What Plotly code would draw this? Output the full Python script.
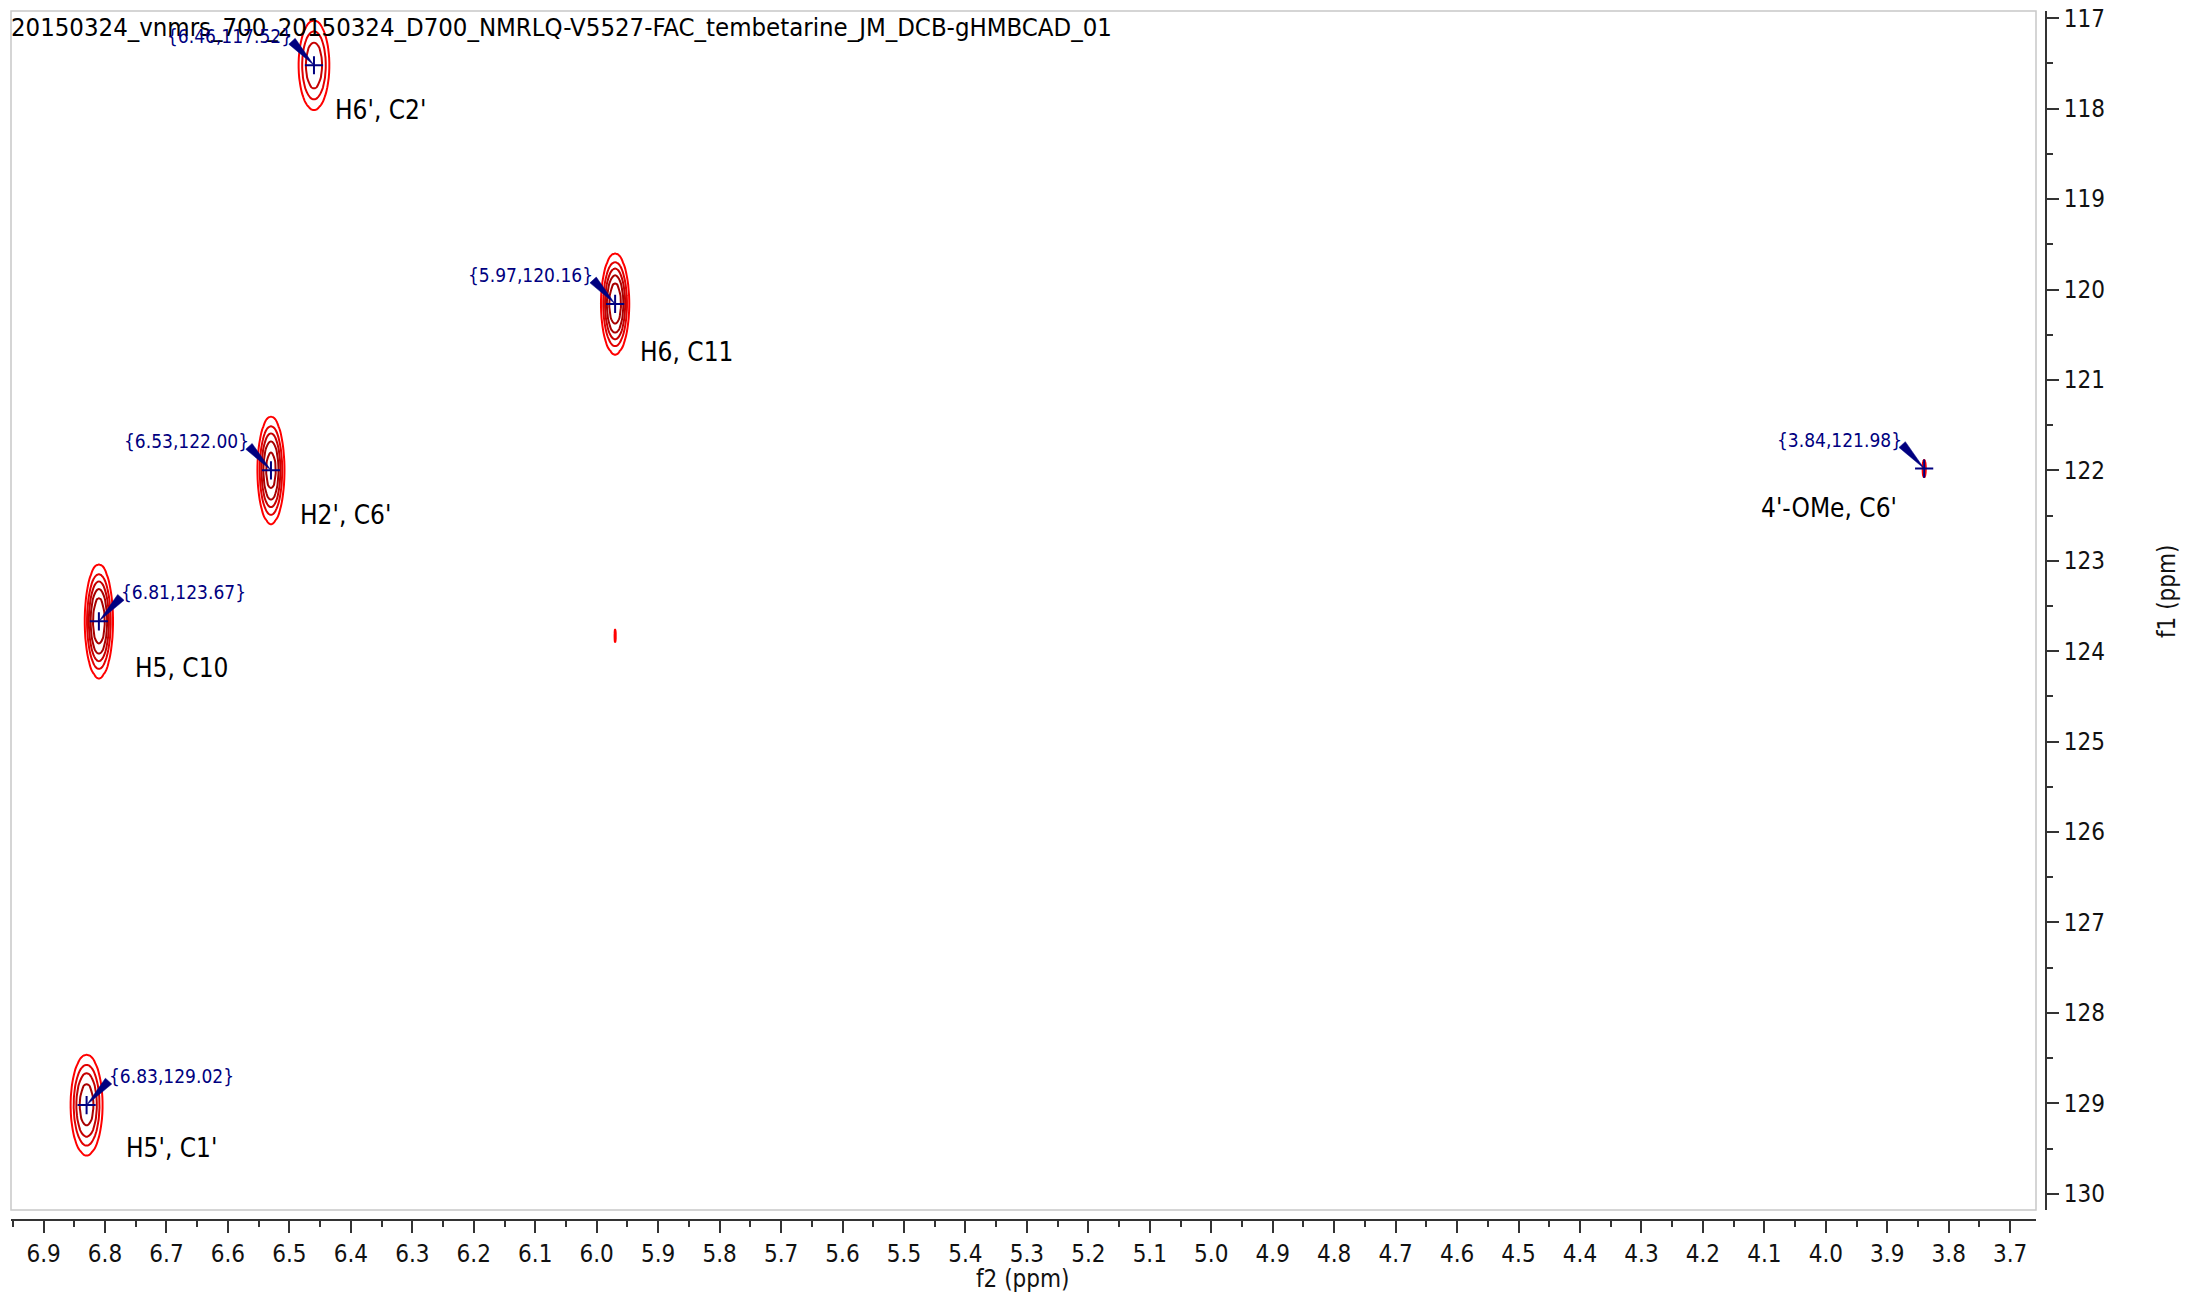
import numpy as np
import plotly.graph_objects as go

# ---------------- data ----------------
title_text = "20150324_vnmrs_700_20150324_D700_NMRLQ-V5527-FAC_tembetarine_JM_DCB-gHMBCAD_01"

peak_f2 = [6.46, 5.97, 6.53, 6.81, 6.83, 3.84]            # ppm (H)
peak_f1 = [117.52, 120.16, 122.00, 123.67, 129.02, 121.98]  # ppm (C)
peak_amp = [0.60, 0.95, 0.90, 0.95, 0.75, 0.24]           # relative intensity
peak_hw_f2 = [0.025, 0.023, 0.022, 0.023, 0.026, 0.0028]  # outer-contour half width (ppm)
peak_hw_f1 = [0.49, 0.55, 0.585, 0.62, 0.55, 0.095]       # outer-contour half height (ppm)
peak_tags = ["{6.46,117.52}", "{5.97,120.16}", "{6.53,122.00}",
             "{6.81,123.67}", "{6.83,129.02}", "{3.84,121.98}"]
peak_assign = ["H6', C2'", "H6, C11", "H2', C6'", "H5, C10", "H5', C1'", "4'-OMe, C6'"]

artifact_f2 = [5.97]
artifact_f1 = [123.83]
artifact_amp = [0.20]
artifact_hw_f2 = [0.0016]
artifact_hw_f1 = [0.068]

x_tick_vals = [round(3.7 + 0.1 * i, 1) for i in range(33)]
y_tick_vals = list(range(117, 131))

contour_start, contour_end, contour_step = 0.15, 0.83, 0.17

# ---------------- layout geometry (screen px, page has 8px body margin) ----------------
OFF = 8
W, H = 2197 - 2 * OFF, 1303 - 2 * OFF
FX0, FX1 = 11, 2036       # frame left/right (screen)
FY0, FY1 = 11, 1210       # frame top/bottom (screen)
X_AXIS_Y = 1220           # x axis line (screen)
Y_AXIS_X = 2046           # y axis line (screen)
X_RANGE = [6.953, 3.658]
Y_RANGE = [130.18, 116.92]
XPX = (FX1 - FX0) / (X_RANGE[0] - X_RANGE[1])
YPX = (FY1 - FY0) / (Y_RANGE[0] - Y_RANGE[1])


def px(sx):
    return (sx - OFF) / W


def py(sy):
    return 1 - (sy - OFF) / H


# tag: side of the tag relative to the peak ('l' = tag left of peak)
tag_side = ['l', 'l', 'l', 'r', 'r', 'l']
tag_dx, tag_dy = 20, 29
wedge_dx, wedge_dy, wedge_hw = 22, 24, 4.3
assign_offsets = [(19, 45, 'left'), (23, 48, 'left'), (27, 45, 'left'),
                  (34, 47, 'left'), (37, 43, 'left'), (-25, 39, 'right')]

NAVY = '#000080'
TICK_FONT = dict(family="DejaVu Sans Condensed, DejaVu Sans", size=24, color='#111111')
LABEL_FONT = dict(family="DejaVu Sans Condensed, DejaVu Sans", size=26, color='#000000')
TAG_FONT = dict(family="DejaVu Sans Condensed, DejaVu Sans", size=19, color=NAVY)

fig = go.Figure()

colorscale = [[0, '#ff0000'], [1, '#a80000']]


def add_peak(cx, cy, amp, hx, hy):
    k = np.log(amp / contour_start) ** (1.0 / 3.0)
    wx, wy = hx / k, hy / k
    xs = np.linspace(cx - 1.6 * hx, cx + 1.6 * hx, 49)
    ys = np.arange(cy - 1.5 * hy, cy + 1.5 * hy + 1e-9, hy / 4.5)
    X, Y = np.meshgrid(xs, ys)
    r2 = ((X - cx) / wx) ** 2 + ((Y - cy) / wy) ** 2
    Z = amp * np.exp(-r2 ** 1.5)
    fig.add_trace(go.Contour(
        x=xs, y=ys, z=Z, showscale=False, colorscale=colorscale,
        zmin=contour_start, zmax=contour_end,
        contours=dict(start=contour_start, end=contour_end, size=contour_step,
                      coloring='lines', showlabels=False),
        line=dict(width=2), hoverinfo='skip'))


for i in range(len(peak_f2)):
    add_peak(peak_f2[i], peak_f1[i], peak_amp[i], peak_hw_f2[i], peak_hw_f1[i])
for i in range(len(artifact_f2)):
    add_peak(artifact_f2[i], artifact_f1[i], artifact_amp[i], artifact_hw_f2[i], artifact_hw_f1[i])

# wedge-shaped pointers from tag to peak
for i in range(len(peak_f2)):
    sgn = -1 if tag_side[i] == 'l' else 1
    bx, by = sgn * wedge_dx, -wedge_dy            # screen px offset (y down)
    L = np.hypot(bx, by)
    nx, ny = -by / L * wedge_hw, bx / L * wedge_hw
    pxs = [0, bx + nx, bx - nx, 0]
    pys = [0, by + ny, by - ny, 0]
    xs = [peak_f2[i] - p / XPX for p in pxs]
    ys = [peak_f1[i] + q / YPX for q in pys]
    fig.add_trace(go.Scatter(x=xs, y=ys, mode='lines', fill='toself',
                             fillcolor=NAVY, line=dict(width=0.5, color=NAVY),
                             hoverinfo='skip', showlegend=False))

fig.add_trace(go.Scatter(x=peak_f2, y=peak_f1, mode='markers',
                         marker=dict(symbol='cross-thin', size=13,
                                     line=dict(width=2, color=NAVY)),
                         hoverinfo='skip', showlegend=False))

annotations = []
for i in range(len(peak_f2)):
    left = tag_side[i] == 'l'
    annotations.append(dict(x=peak_f2[i], y=peak_f1[i], xref='x', yref='y',
                            text=peak_tags[i], showarrow=False,
                            xanchor='right' if left else 'left', yanchor='middle',
                            xshift=-tag_dx if left else tag_dx, yshift=tag_dy,
                            font=TAG_FONT))
    dx, dy, anc = assign_offsets[i]
    annotations.append(dict(x=peak_f2[i], y=peak_f1[i], xref='x', yref='y',
                            text=peak_assign[i], showarrow=False,
                            xanchor=anc, yanchor='middle',
                            xshift=dx, yshift=-dy, font=LABEL_FONT))

annotations.append(dict(x=px(1023), y=py(1279), xref='paper', yref='paper',
                        text='f2 (ppm)', showarrow=False, xanchor='center', yanchor='middle',
                        font=TICK_FONT))
annotations.append(dict(x=px(2167), y=py(591), xref='paper', yref='paper',
                        text='f1 (ppm)', showarrow=False, xanchor='center', yanchor='middle',
                        textangle=-90, font=TICK_FONT))

fig.update_layout(
    width=W, height=H,
    margin=dict(l=0, r=0, t=0, b=0),
    paper_bgcolor='white', plot_bgcolor='white',
    showlegend=False,
    title=dict(text=title_text, x=px(11), xanchor='left', xref='paper',
               y=py(27), yanchor='middle', yref='container',
               font=dict(family="DejaVu Sans Condensed, DejaVu Sans", size=25.5, color='#000000')),
    xaxis=dict(domain=[px(FX0), px(FX1)], range=X_RANGE, anchor='free',
               position=py(X_AXIS_Y), showline=True, linecolor='#333333', linewidth=2,
               ticks='outside', ticklen=12, tickwidth=1.5, tickcolor='#333333',
               tickvals=x_tick_vals, ticktext=[f"{v:.1f}" for v in x_tick_vals],
               minor=dict(ticks='outside', ticklen=6, tickwidth=1.5, tickcolor='#333333', dtick=0.05, tick0=3.65),
               showgrid=False, zeroline=False, tickfont=TICK_FONT, automargin=False,
               ticklabeloverflow='allow'),
    yaxis=dict(domain=[py(FY1), py(FY0)], range=Y_RANGE, anchor='free',
               position=px(Y_AXIS_X), side='right', showline=True, linecolor='#333333', linewidth=2,
               ticks='outside', ticklen=12, tickwidth=1.5, tickcolor='#333333',
               tickvals=y_tick_vals, ticktext=[str(v) for v in y_tick_vals],
               minor=dict(ticks='outside', ticklen=6, tickwidth=1.5, tickcolor='#333333', dtick=0.5, tick0=116.5),
               showgrid=False, zeroline=False, tickfont=TICK_FONT, automargin=False,
               ticklabeloverflow='allow'),
    shapes=[dict(type='rect', xref='x domain', yref='y domain', x0=0, x1=1, y0=0, y1=1,
                 line=dict(color='#c8c8c8', width=1.5), layer='below')],
    annotations=annotations,
)

fig.write_html("out.html")
